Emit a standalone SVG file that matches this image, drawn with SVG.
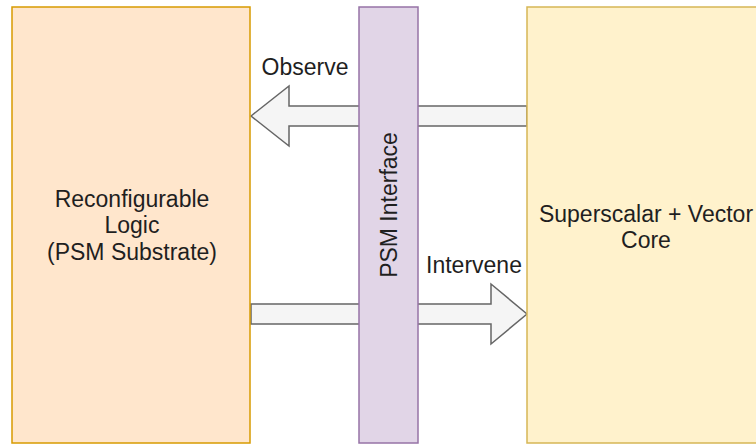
<svg xmlns="http://www.w3.org/2000/svg" width="756" height="444" viewBox="0 0 756 444">
  <style>
    .lbl { font-family: "Liberation Sans", Arial, Helvetica, sans-serif; font-size: 23px; fill: #1f1f1f; text-anchor: middle; }
    .arrow { fill: #f5f5f5; stroke: #666666; stroke-width: 1.5; stroke-linejoin: miter; }
    .box { stroke-width: 1.5; }
  </style>
  <rect width="756" height="444" fill="#ffffff"/>

  <!-- connectors: block arrows between the substrate and the core -->
  <g id="connectors">
    <g id="observe">
      <polygon class="arrow" points="251,116 289,86 289,106 527,106 527,126 289,126 289,146"/>
      <text class="lbl" x="305" y="75">Observe</text>
    </g>
    <g id="intervene">
      <polygon class="arrow" points="251,304 491,304 491,284 527,314 491,344 491,324 251,324"/>
      <text class="lbl" x="474" y="273">Intervene</text>
    </g>
  </g>

  <g id="reconfigurable-logic">
    <rect class="box" x="12" y="7" width="238" height="436" fill="#ffe6cc" stroke="#d79b00"/>
    <text class="lbl" x="132" y="207">Reconfigurable</text>
    <text class="lbl" x="132" y="233">Logic</text>
    <text class="lbl" x="132" y="260">(PSM Substrate)</text>
  </g>

  <g id="psm-interface">
    <rect class="box" x="359" y="7" width="59" height="436" fill="#e1d5e7" stroke="#9673a6"/>
    <text class="lbl" transform="translate(388.5,205) rotate(-90)" x="0" y="8">PSM Interface</text>
  </g>

  <g id="core">
    <rect class="box" x="527" y="7" width="238" height="436" fill="#fff2cc" stroke="#d6b656"/>
    <text class="lbl" x="646" y="222">Superscalar + Vector</text>
    <text class="lbl" x="646" y="248">Core</text>
  </g>
</svg>
